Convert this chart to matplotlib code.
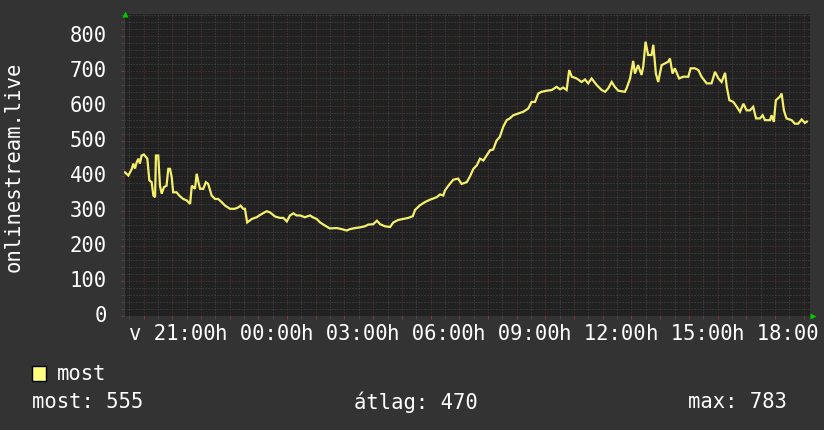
import matplotlib
matplotlib.use("Agg")
from matplotlib import pyplot as plt
from matplotlib.patches import Rectangle
from matplotlib.ticker import MultipleLocator

# hours since midnight of the first day (values past 24 are the next day)
hours = [19.35, 19.47, 19.59, 19.64, 19.70, 19.76, 19.82, 19.87, 19.93, 20.01,
         20.13, 20.20, 20.28, 20.34, 20.40, 20.43, 20.51, 20.57, 20.63, 20.71,
         20.80, 20.86, 20.92, 20.98, 21.03, 21.15, 21.24, 21.38, 21.50, 21.62,
         21.68, 21.79, 21.85, 21.91, 21.97, 22.08, 22.17, 22.25, 22.37, 22.49,
         22.60, 22.72, 22.84, 23.01, 23.18, 23.30, 23.38, 23.47, 23.53, 23.61,
         23.77, 23.94, 24.11, 24.29, 24.40, 24.58, 24.75, 24.87, 24.99, 25.10,
         25.22, 25.33, 25.45, 25.62, 25.80, 25.89, 26.03, 26.15, 26.32, 26.49,
         26.73, 26.90, 27.08, 27.19, 27.37, 27.54, 27.71, 27.83, 28.00, 28.13,
         28.24, 28.41, 28.59, 28.70, 28.87, 29.05, 29.22, 29.38, 29.46, 29.63,
         29.80, 29.98, 30.21, 30.33, 30.44, 30.50, 30.62, 30.79, 30.96, 31.08,
         31.26, 31.37, 31.49, 31.61, 31.72, 31.84, 31.95, 32.07, 32.18, 32.30,
         32.41, 32.53, 32.65, 32.76, 32.88, 33.05, 33.23, 33.40, 33.52, 33.64,
         33.75, 33.87, 34.04, 34.22, 34.39, 34.51, 34.62, 34.74, 34.83, 34.92,
         35.09, 35.26, 35.38, 35.49, 35.61, 35.79, 35.96, 36.08, 36.19, 36.31,
         36.42, 36.54, 36.77, 36.83, 36.95, 37.06, 37.12, 37.23, 37.35, 37.41,
         37.49, 37.58, 37.70, 37.76, 37.85, 37.93, 38.05, 38.17, 38.28, 38.34,
         38.43, 38.51, 38.66, 38.80, 38.98, 39.06, 39.21, 39.33, 39.44, 39.62,
         39.79, 39.91, 40.03, 40.14, 40.26, 40.32, 40.41, 40.55, 40.67, 40.78,
         40.90, 41.01, 41.13, 41.24, 41.34, 41.48, 41.57, 41.65, 41.83, 41.88,
         41.96, 42.03, 42.17, 42.23, 42.31, 42.40, 42.58, 42.69, 42.81, 42.93,
         43.04, 43.11]
viewers = [410, 401, 420, 435, 421, 439, 449, 435, 458, 461,
           449, 387, 382, 344, 339, 458, 458, 372, 349, 368,
           372, 420, 420, 396, 353, 353, 344, 334, 330, 320,
           372, 363, 406, 382, 363, 363, 382, 377, 344, 334,
           334, 325, 315, 306, 306, 310, 315, 306, 306, 267,
           277, 282, 291, 299, 296, 284, 280, 280, 270, 287,
           293, 287, 287, 282, 287, 282, 277, 267, 258, 250,
           251, 248, 244, 248, 251, 253, 256, 261, 262, 272,
           262, 256, 254, 267, 274, 277, 280, 285, 303, 316,
           325, 332, 339, 347, 344, 358, 372, 389, 392, 377,
           382, 398, 420, 430, 449, 444, 458, 473, 475, 501,
           511, 540, 559, 564, 573, 578, 583, 592, 611, 611,
           635, 640, 643, 645, 654, 647, 652, 645, 702, 683,
           678, 668, 675, 664, 678, 659, 645, 640, 650, 668,
           654, 643, 640, 650, 678, 728, 692, 716, 688, 712,
           783, 745, 745, 774, 692, 668, 716, 721, 726, 735,
           692, 707, 678, 683, 683, 707, 707, 702, 683, 664,
           664, 697, 678, 668, 694, 654, 616, 611, 597, 583,
           606, 587, 587, 597, 564, 564, 573, 559, 559, 573,
           554, 616, 626, 635, 587, 564, 559, 549, 549, 561,
           551, 555]

tick_hours = [21, 24, 27, 30, 33, 36, 39, 42]
tick_labels = ["v 21:00", "h 00:00", "h 03:00", "h 06:00",
               "h 09:00", "h 12:00", "h 15:00", "h 18:00"]
y_ticks = [0, 100, 200, 300, 400, 500, 600, 700, 800]
series_name = "most"
stat_labels = ["most: 555", "átlag: 470", "max: 783"]

BACK = "#333333"
CANVAS = "#212121"
LINE = "#f4f06c"
MONO = "DejaVu Sans Mono"
FS = 14.8

fig = plt.figure(figsize=(8.24, 4.30), dpi=100, facecolor=BACK)
ax = fig.add_axes([124/824, 1-316/430, 686/824, 302/430], facecolor=CANVAS)

ax.plot(hours, viewers, color=LINE, lw=1.6, solid_joinstyle="miter", zorder=3)
ax.set_xlim(19.317, 43.22)
ax.set_ylim(0, 862)

ax.xaxis.set_major_locator(MultipleLocator(1))
ax.xaxis.set_minor_locator(MultipleLocator(0.5))
ax.yaxis.set_major_locator(MultipleLocator(100))
ax.yaxis.set_minor_locator(MultipleLocator(20))
ax.grid(which="minor", color="#4a4a4a", lw=0.72, ls=(0, (1, 2)), zorder=1)
ax.grid(which="major", color="#6a3333", lw=0.72, ls=(0, (1, 2)), zorder=2)
ax.tick_params(which="both", length=2.5, width=0.72, labelsize=0)
ax.tick_params(which="major", color="#8a3a3a")
ax.tick_params(which="minor", color="#4a4a4a")
ax.set_xticklabels([])
ax.set_yticklabels([])
for s in ax.spines.values():
    s.set_visible(False)
ax.axvline(19.317, color="#3a3a3a", lw=1.5, zorder=2)

# labels drawn as text so the overlapping hour labels look like the original
for h, lab in zip(tick_hours, tick_labels):
    ax.text(h, -0.025, lab, transform=ax.get_xaxis_transform(), ha="center",
            va="top", color="white", fontsize=FS, family=MONO)
for v in y_ticks:
    ax.text(-0.025, v, str(v), transform=ax.get_yaxis_transform(), ha="right",
            va="center", color="white", fontsize=FS, family=MONO)

# green axis arrows
ax.plot([0.0015], [1.0], marker="^", ms=5, color="#00cc00", mec="none",
        transform=ax.transAxes, clip_on=False, zorder=5)
ax.plot([1.005], [0.0], marker=">", ms=5, color="#00cc00", mec="none",
        transform=ax.transAxes, clip_on=False, zorder=5)

fig.text(14/824, 1-167/430, "onlinestream.live", rotation=90, ha="center",
         va="center", color="white", fontsize=FS, family=MONO)

# legend
fig.patches.append(Rectangle((32/824, 1-381/430), 14/824, 15/430,
                             transform=fig.transFigure, facecolor="#ffff80",
                             edgecolor="black", lw=1))
fig.text(57/824, 1-374/430, series_name, ha="left", va="center",
         color="white", fontsize=FS, family=MONO)
for xp, lab in zip([32, 354, 688], stat_labels):
    fig.text(xp/824, 1-402/430, lab, ha="left", va="center",
             color="white", fontsize=FS, family=MONO)

plt.savefig("out.png", dpi=100, facecolor=BACK)
